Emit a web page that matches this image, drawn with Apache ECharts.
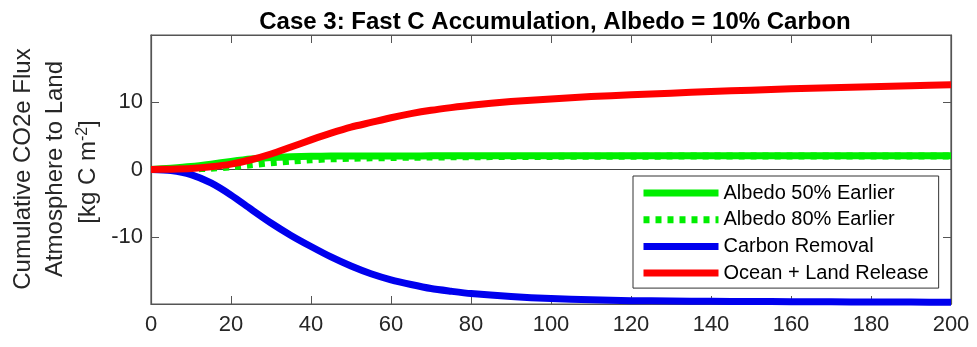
<!DOCTYPE html>
<html>
<head>
<meta charset="utf-8">
<script src="https://cdn.jsdelivr.net/npm/echarts@6/dist/echarts.min.js"></script>
<style>
html,body{margin:0;padding:0;background:#fff;}
#chart{width:977px;height:347px;}
</style>
</head>
<body>
<div id="chart"></div>
<script>
var titleText = 'Case 3: Fast C Accumulation, Albedo = 10% Carbon';
var yNameLines = ['Cumulative CO2e Flux', 'Atmosphere to Land'];
var xTicks = [0, 20, 40, 60, 80, 100, 120, 140, 160, 180, 200];
var yTicks = [-10, 0, 10];
var seriesNames = ['Albedo 50% Earlier', 'Albedo 80% Earlier', 'Carbon Removal', 'Ocean + Land Release'];

var years = [0,5,10,15,20,25,30,35,40,45,50,55,60,65,70,75,80,90,100,110,120,130,140,150,160,170,180,190,200];
var albedo50 = [0,0.2,0.45,0.8,1.2,1.55,1.78,1.9,1.96,1.99,2.0,2.01,2.02,2.02,2.03,2.03,2.03,2.04,2.04,2.04,2.05,2.05,2.05,2.05,2.05,2.05,2.05,2.05,2.05];
var albedo80 = [0,0.02,0.08,0.2,0.4,0.7,1.0,1.25,1.45,1.58,1.67,1.73,1.78,1.82,1.85,1.88,1.9,1.93,1.95,1.97,1.98,1.99,2.0,2.0,2.01,2.01,2.02,2.02,2.02];
var carbonRemoval = [0,-0.15,-0.75,-2.0,-3.8,-5.9,-7.95,-9.8,-11.45,-13.0,-14.35,-15.5,-16.4,-17.1,-17.7,-18.1,-18.45,-18.9,-19.2,-19.35,-19.5,-19.55,-19.6,-19.63,-19.65,-19.68,-19.7,-19.72,-19.75];
var oceanLand = [0,0.05,0.15,0.4,0.8,1.45,2.3,3.35,4.4,5.4,6.3,7.0,7.7,8.3,8.8,9.2,9.55,10.1,10.5,10.85,11.1,11.35,11.6,11.8,12.0,12.15,12.3,12.45,12.6];

function pairs(ys){ return years.map(function(x,i){ return [x, ys[i]]; }); }

var FONT = "'Liberation Sans', Arial, sans-serif";
var AX = '#555555';
var TXT = '#262626';

var chart = echarts.init(document.getElementById('chart'), null, {renderer:'canvas'});

function mkLine(name, data, color, dashed){
  return {
    name: name, type: 'line', data: pairs(data), showSymbol: false, symbol: 'none',
    smooth: 0.25, clip: true, animation: false,
    lineStyle: { color: color, width: 7, type: dashed ? [6, 6] : 'solid', cap: 'butt', join: 'round' },
    itemStyle: { color: color, opacity: 0 }, z: 3
  };
}

var series = [
  mkLine(seriesNames[0], albedo50, '#00ee00', false),
  mkLine(seriesNames[1], albedo80, '#00ee00', true),
  mkLine(seriesNames[2], carbonRemoval, '#0000ee', false),
  mkLine(seriesNames[3], oceanLand, '#ff0000', false)
];
series[0].markLine = {
  silent: true, symbol: 'none', animation: false, label: {show: false},
  lineStyle: { color: '#444', width: 1.2, type: 'solid' },
  data: [{ yAxis: 0 }], z: 1
};

var option = {
  backgroundColor: '#ffffff',
  animation: false,
  title: {
    text: titleText, left: 550, top: 5, textAlign: 'center',
    textStyle: { fontFamily: FONT, fontSize: 24, fontWeight: 'bold', color: '#000' }
  },
  grid: { left: 151, right: 26, top: 35, bottom: 43, show: true, borderColor: AX, borderWidth: 1.2, backgroundColor: 'transparent' },
  legend: {
    orient: 'vertical', left: 633, top: 176,
    data: seriesNames,
    itemWidth: 75, itemHeight: 14, itemGap: 6.7,
    padding: [7, 10, 5, 7],
    backgroundColor: '#fff', borderColor: '#333', borderWidth: 1,
    itemStyle: { opacity: 0, borderWidth: 0 },
    lineStyle: { width: 7 },
    textStyle: { fontFamily: FONT, fontSize: 20, color: '#000', lineHeight: 20 },
    selectedMode: false
  },
  xAxis: [{
    type: 'value', min: 0, max: 200, interval: 20,
    axisLine: { show: true, onZero: false, lineStyle: { color: AX, width: 1.2 } },
    axisTick: { show: true, inside: true, length: 8, lineStyle: { color: AX } },
    axisLabel: { fontFamily: FONT, fontSize: 22, color: TXT, margin: 10,
      formatter: function(v){ return xTicks.indexOf(v) >= 0 ? String(v) : ''; } },
    splitLine: { show: false }
  }, {
    type: 'value', min: 0, max: 200, interval: 20, position: 'top',
    axisLine: { show: true, onZero: false, lineStyle: { color: AX, width: 1.2 } },
    axisTick: { show: true, inside: true, length: 8, lineStyle: { color: AX } },
    axisLabel: { show: false }, splitLine: { show: false }
  }],
  yAxis: [{
    type: 'value', min: -20, max: 20, interval: 10,
    axisLine: { show: true, onZero: false, lineStyle: { color: AX, width: 1.2 } },
    axisTick: { show: true, inside: true, length: 8, lineStyle: { color: AX } },
    axisLabel: { fontFamily: FONT, fontSize: 22, color: TXT, margin: 8,
      formatter: function(v){ return yTicks.indexOf(v) >= 0 ? String(v) : ''; } },
    splitLine: { show: false }
  }, {
    type: 'value', min: -20, max: 20, interval: 10, position: 'right',
    axisLine: { show: true, onZero: false, lineStyle: { color: AX, width: 1.2 } },
    axisTick: { show: true, inside: true, length: 8, lineStyle: { color: AX } },
    axisLabel: { show: false }, splitLine: { show: false }
  }],
  graphic: [
    { type: 'text', x: 23, y: 169, rotation: Math.PI / 2,
      style: { text: yNameLines[0], font: "24px 'Liberation Sans', Arial, sans-serif", fill: TXT, textAlign: 'center', textVerticalAlign: 'middle' } },
    { type: 'text', x: 55, y: 169, rotation: Math.PI / 2,
      style: { text: yNameLines[1], font: "24px 'Liberation Sans', Arial, sans-serif", fill: TXT, textAlign: 'center', textVerticalAlign: 'middle' } },
    { type: 'text', x: 88, y: 172, rotation: Math.PI / 2,
      style: { text: '{n|[kg C m}{s|-2}{n|]}', textAlign: 'center', textVerticalAlign: 'middle', fill: TXT,
        rich: {
          n: { fontFamily: FONT, fontSize: 24, fill: TXT, color: TXT },
          s: { fontFamily: FONT, fontSize: 16, fill: TXT, color: TXT, verticalAlign: 'top', padding: [0,0,10,0] }
        } } }
  ],
  series: series
};
chart.setOption(option);
</script>
</body>
</html>
